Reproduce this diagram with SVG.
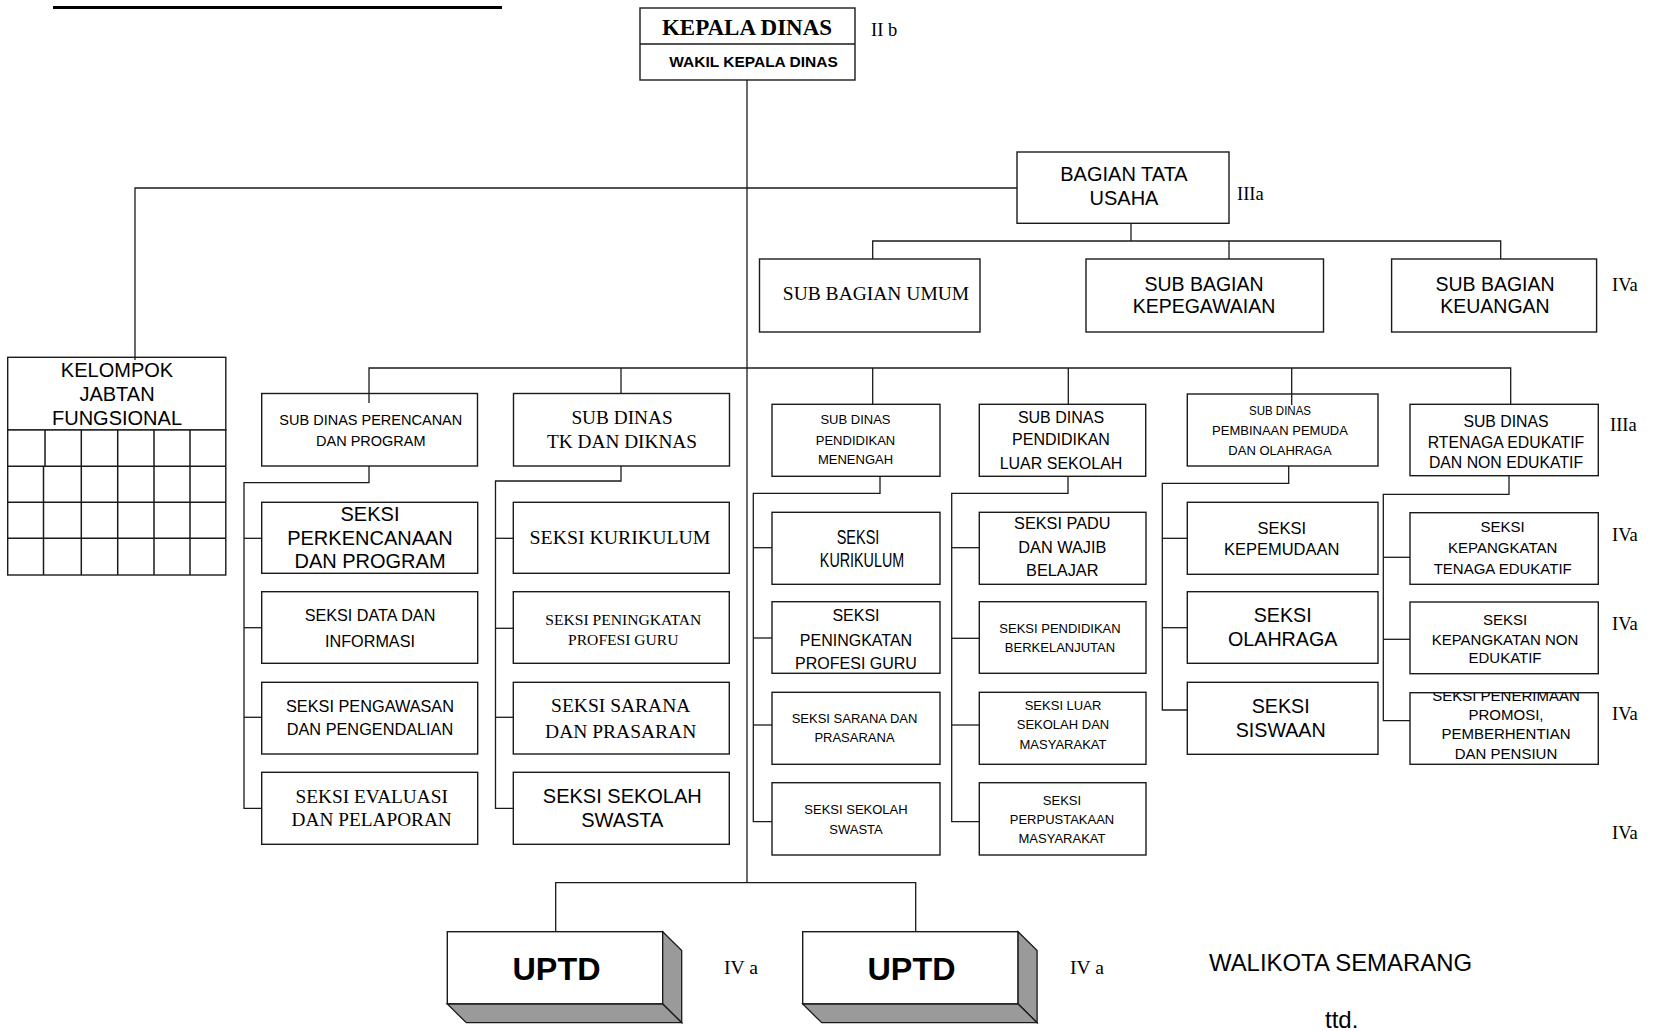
<svg xmlns="http://www.w3.org/2000/svg" width="1669" height="1031" viewBox="0 0 1669 1031">
<style>
.b{fill:#fff;stroke:#1a1a1a;stroke-width:1.4}
.c{fill:none;stroke:#1a1a1a;stroke-width:1.3}
.g{fill:#9a9a9a;stroke:#1a1a1a;stroke-width:1.3}
.s{font-family:"Liberation Sans",Arial,sans-serif;fill:#000;text-anchor:middle}
.r{font-family:"Liberation Serif","Times New Roman",serif;fill:#000;text-anchor:middle}
.l{font-family:"Liberation Serif","Times New Roman",serif;fill:#000;font-size:18.5px}
</style>
<defs>
<clipPath id="clipPen"><rect x="1410" y="692.7" width="188.3" height="71.6"/></clipPath>
</defs>
<rect width="1669" height="1031" fill="#fff"/>
<line x1="53" y1="7.5" x2="502" y2="7.5" stroke="#000" stroke-width="3"/>

<g id="kepala">
<rect class="b" x="640" y="8" width="215" height="72"/>
<line class="c" x1="640" y1="44" x2="855" y2="44"/>
<text class="r" x="747" y="34.5" font-size="23" font-weight="bold">KEPALA DINAS</text>
<text class="s" x="753.5" y="66.5" font-size="15.5" font-weight="bold">WAKIL KEPALA DINAS</text>
<text class="l" x="871" y="36" font-size="17">II b</text>
</g>

<g id="bagian-tu">
<rect class="b" x="1017" y="152" width="212" height="71.3"/>
<text class="s" font-size="20" x="1124" y="180.7">BAGIAN TATA</text>
<text class="s" font-size="20" x="1124" y="205.2">USAHA</text>
<text class="l" x="1237" y="200">IIIa</text>
</g>

<g id="sub-umum">
<rect class="b" x="759.5" y="259" width="220.5" height="73"/>
<text class="r" font-size="19.5" x="876" y="299.5">SUB BAGIAN UMUM</text>
</g>
<g id="sub-kepegawaian">
<rect class="b" x="1086" y="259" width="237.5" height="73"/>
<text class="s" font-size="19.5" x="1204" y="290.5">SUB BAGIAN</text>
<text class="s" font-size="19.5" x="1204" y="313">KEPEGAWAIAN</text>
</g>
<g id="sub-keuangan">
<rect class="b" x="1391.6" y="259" width="205" height="73"/>
<text class="s" font-size="19.5" x="1495" y="290.5">SUB BAGIAN</text>
<text class="s" font-size="19.5" x="1495" y="313">KEUANGAN</text>
<text class="l" x="1612" y="291">IVa</text>
</g>

<g id="kelompok">
<rect class="b" x="7.7" y="357.3" width="218.1" height="72.7"/>
<text class="s" font-size="20" x="117" y="376.5">KELOMPOK</text>
<text class="s" font-size="20" x="117" y="401.2">JABTAN</text>
<text class="s" font-size="20" x="117" y="424.9">FUNGSIONAL</text>
<rect class="b" x="7.7" y="430" width="218.1" height="145" fill="none"/>
<g fill="none" stroke="#1a1a1a" stroke-width="1.5">
<line x1="7.7" y1="466.3" x2="225.8" y2="466.3"/>
<line x1="7.7" y1="502.3" x2="225.8" y2="502.3"/>
<line x1="7.7" y1="538.3" x2="225.8" y2="538.3"/>
<line x1="45" y1="430" x2="45" y2="466.3"/>
<line x1="43.5" y1="466.3" x2="43.5" y2="575"/>
<line x1="81.3" y1="430" x2="81.3" y2="575"/>
<line x1="117.7" y1="430" x2="117.7" y2="575"/>
<line x1="154" y1="430" x2="154" y2="575"/>
<line x1="190" y1="430" x2="190" y2="575"/>
</g>
</g>

<g id="sd-perencanaan">
<rect class="b" x="261.7" y="393.5" width="215.8" height="72.5"/>
<text class="s" font-size="14.5" x="370.8" y="425.2">SUB DINAS PERENCANAN</text>
<text class="s" font-size="14.5" x="370.8" y="446.2">DAN PROGRAM</text>
</g>
<g id="sd-tk">
<rect class="b" x="513.5" y="393.5" width="216" height="72.5"/>
<text class="r" font-size="19.3" x="622" y="424">SUB DINAS</text>
<text class="r" font-size="19.3" x="622" y="448">TK DAN DIKNAS</text>
</g>
<g id="sd-menengah">
<rect class="b" x="772" y="404.3" width="168" height="72"/>
<text class="s" font-size="13" x="855.5" y="424">SUB DINAS</text>
<text class="s" font-size="13" x="855.5" y="444.7">PENDIDIKAN</text>
<text class="s" font-size="13" x="855.5" y="463.7">MENENGAH</text>
</g>
<g id="sd-luar">
<rect class="b" x="979.3" y="404.3" width="166.4" height="72"/>
<text class="s" font-size="16" x="1061" y="422.5">SUB DINAS</text>
<text class="s" font-size="16" x="1061" y="445">PENDIDIKAN</text>
<text class="s" font-size="16" x="1061" y="469">LUAR SEKOLAH</text>
</g>
<g id="sd-pembinaan">
<rect class="b" x="1187.3" y="394" width="190.7" height="72"/>
<text class="s" font-size="13" x="1280" y="414.7" textLength="62" lengthAdjust="spacingAndGlyphs">SUB DINAS</text>
<text class="s" font-size="13" x="1280" y="434.7">PEMBINAAN PEMUDA</text>
<text class="s" font-size="13" x="1280" y="454.7">DAN OLAHRAGA</text>
</g>
<g id="sd-tenaga">
<rect class="b" x="1410" y="404.3" width="188.3" height="71.4"/>
<text class="s" font-size="15.8" x="1506" y="427.4">SUB DINAS</text>
<text class="s" font-size="15.8" x="1506" y="448">RTENAGA EDUKATIF</text>
<text class="s" font-size="15.8" x="1506" y="468">DAN NON EDUKATIF</text>
<text class="l" x="1610" y="431">IIIa</text>
</g>

<g id="seksi-perkencanaan">
<rect class="b" x="261.7" y="502.3" width="216" height="71"/>
<text class="s" font-size="20" x="370" y="520.5">SEKSI</text>
<text class="s" font-size="20" x="370" y="545">PERKENCANAAN</text>
<text class="s" font-size="20" x="370" y="568">DAN PROGRAM</text>
</g>
<g id="seksi-data">
<rect class="b" x="261.7" y="591.7" width="216" height="71.6"/>
<text class="s" font-size="16.2" x="370" y="620.8">SEKSI DATA DAN</text>
<text class="s" font-size="16.2" x="370" y="646.8">INFORMASI</text>
</g>
<g id="seksi-pengawasan">
<rect class="b" x="261.7" y="682.3" width="216" height="71.7"/>
<text class="s" font-size="16.3" x="370" y="711.9">SEKSI PENGAWASAN</text>
<text class="s" font-size="16.3" x="370" y="735.2">DAN PENGENDALIAN</text>
</g>
<g id="seksi-evaluasi">
<rect class="b" x="261.7" y="772.3" width="216" height="72"/>
<text class="r" font-size="19.3" x="371.7" y="803">SEKSI EVALUASI</text>
<text class="r" font-size="19.3" x="371.7" y="826.3">DAN PELAPORAN</text>
</g>

<g id="seksi-kurikulum-tk">
<rect class="b" x="513.3" y="502.3" width="216" height="71"/>
<text class="r" font-size="19.8" x="620" y="544">SEKSI KURIKULUM</text>
</g>
<g id="seksi-profesi-tk">
<rect class="b" x="513.3" y="591.7" width="216" height="71.6"/>
<text class="r" font-size="15.6" x="623.3" y="624.5">SEKSI PENINGKATAN</text>
<text class="r" font-size="15.6" x="623.3" y="644.5">PROFESI GURU</text>
</g>
<g id="seksi-sarana-tk">
<rect class="b" x="513.3" y="682.3" width="216" height="71.7"/>
<text class="r" font-size="19.5" x="620.7" y="712.4">SEKSI SARANA</text>
<text class="r" font-size="19.5" x="620.7" y="738">DAN PRASARAN</text>
</g>
<g id="seksi-swasta-tk">
<rect class="b" x="513.3" y="772.3" width="216" height="72"/>
<text class="s" font-size="20" x="622.3" y="803.2">SEKSI SEKOLAH</text>
<text class="s" font-size="20" x="622.3" y="827.2">SWASTA</text>
</g>

<g id="seksi-kurikulum-men">
<rect class="b" x="772" y="512.3" width="168" height="72"/>
<text class="s" font-size="20" x="858" y="543.9" textLength="42.7" lengthAdjust="spacingAndGlyphs">SEKSI</text>
<text class="s" font-size="20" x="862" y="566.5" textLength="84.3" lengthAdjust="spacingAndGlyphs">KURIKULUM</text>
</g>
<g id="seksi-profesi-men">
<rect class="b" x="772" y="601.7" width="168" height="71.6"/>
<text class="s" font-size="16" x="856" y="620.8">SEKSI</text>
<text class="s" font-size="16" x="856" y="645.8">PENINGKATAN</text>
<text class="s" font-size="16" x="856" y="668.5">PROFESI GURU</text>
</g>
<g id="seksi-sarana-men">
<rect class="b" x="772" y="692.3" width="168" height="72"/>
<text class="s" font-size="13" x="854.5" y="723">SEKSI SARANA DAN</text>
<text class="s" font-size="13" x="854.5" y="742.4">PRASARANA</text>
</g>
<g id="seksi-swasta-men">
<rect class="b" x="772" y="782.7" width="168" height="72.3"/>
<text class="s" font-size="13" x="856" y="813.7">SEKSI SEKOLAH</text>
<text class="s" font-size="13" x="856" y="834">SWASTA</text>
</g>

<g id="seksi-padu">
<rect class="b" x="979.3" y="512.3" width="166.7" height="72"/>
<text class="s" font-size="16.3" x="1062.3" y="529.2">SEKSI PADU</text>
<text class="s" font-size="16.3" x="1062.3" y="552.6">DAN WAJIB</text>
<text class="s" font-size="16.3" x="1062.3" y="575.9">BELAJAR</text>
</g>
<g id="seksi-berkelanjutan">
<rect class="b" x="979.3" y="601.7" width="166.7" height="71.6"/>
<text class="s" font-size="13" x="1060" y="633">SEKSI PENDIDIKAN</text>
<text class="s" font-size="13" x="1060" y="652.4">BERKELANJUTAN</text>
</g>
<g id="seksi-luar-sekolah">
<rect class="b" x="979.3" y="692.3" width="166.7" height="72"/>
<text class="s" font-size="13" x="1063" y="709.7">SEKSI LUAR</text>
<text class="s" font-size="13" x="1063" y="728.7">SEKOLAH DAN</text>
<text class="s" font-size="13" x="1063" y="748.7">MASYARAKAT</text>
</g>
<g id="seksi-perpustakaan">
<rect class="b" x="979.3" y="782.7" width="166.7" height="72.3"/>
<text class="s" font-size="13" x="1062" y="804.7">SEKSI</text>
<text class="s" font-size="13" x="1062" y="823.7">PERPUSTAKAAN</text>
<text class="s" font-size="13" x="1062" y="843">MASYARAKAT</text>
</g>

<g id="seksi-kepemudaan">
<rect class="b" x="1187.3" y="502.3" width="190.7" height="72"/>
<text class="s" font-size="16.5" x="1281.7" y="533.6">SEKSI</text>
<text class="s" font-size="16.5" x="1281.7" y="554.9">KEPEMUDAAN</text>
</g>
<g id="seksi-olahraga">
<rect class="b" x="1187.3" y="591.7" width="190.7" height="71.6"/>
<text class="s" font-size="19.7" x="1282.7" y="622.1">SEKSI</text>
<text class="s" font-size="19.7" x="1282.7" y="646.4">OLAHRAGA</text>
</g>
<g id="seksi-siswaan">
<rect class="b" x="1187.3" y="682.3" width="190.7" height="72"/>
<text class="s" font-size="19.7" x="1280.7" y="713.1">SEKSI</text>
<text class="s" font-size="19.7" x="1280.7" y="737.1">SISWAAN</text>
</g>

<g id="seksi-kep-edukatif">
<rect class="b" x="1410" y="512.7" width="188.3" height="71.6"/>
<text class="s" font-size="15" x="1502.7" y="532.1">SEKSI</text>
<text class="s" font-size="15" x="1502.7" y="552.7">KEPANGKATAN</text>
<text class="s" font-size="15" x="1502.7" y="573.7">TENAGA EDUKATIF</text>
<text class="l" x="1612" y="541">IVa</text>
</g>
<g id="seksi-kep-non">
<rect class="b" x="1410" y="602" width="188.3" height="71.7"/>
<text class="s" font-size="15" x="1505" y="625.4">SEKSI</text>
<text class="s" font-size="15" x="1505" y="644.7">KEPANGKATAN NON</text>
<text class="s" font-size="15" x="1505" y="663.1">EDUKATIF</text>
<text class="l" x="1612" y="629.5">IVa</text>
</g>
<g id="seksi-penerimaan">
<rect class="b" x="1410" y="692.7" width="188.3" height="71.6"/>
<g clip-path="url(#clipPen)">
<text class="s" font-size="15" x="1506" y="701">SEKSI PENERIMAAN</text>
</g>
<text class="s" font-size="15" x="1506" y="720.4">PROMOSI,</text>
<text class="s" font-size="15" x="1506" y="739.4">PEMBERHENTIAN</text>
<text class="s" font-size="15" x="1506" y="758.7">DAN PENSIUN</text>
<text class="l" x="1612" y="720">IVa</text>
</g>
<text class="l" x="1612" y="838.5">IVa</text>

<g id="uptd-1">
<rect class="b" x="447.3" y="931.7" width="215.4" height="72.3"/>
<polygon class="g" points="662.7,931.7 681.7,950.5 681.7,1022.7 662.7,1004"/>
<polygon class="g" points="447.3,1004 662.7,1004 681.7,1022.7 466.3,1022.7"/>
<text class="s" font-size="32" font-weight="bold" x="556.5" y="980" textLength="88" lengthAdjust="spacingAndGlyphs">UPTD</text>
<text class="l" x="724" y="974" font-size="17" textLength="34" lengthAdjust="spacingAndGlyphs">IV a</text>
</g>
<g id="uptd-2">
<rect class="b" x="802.7" y="931.7" width="215.4" height="72.3"/>
<polygon class="g" points="1018.1,931.7 1037.1,950.5 1037.1,1022.7 1018.1,1004"/>
<polygon class="g" points="802.7,1004 1018.1,1004 1037.1,1022.7 821.7,1022.7"/>
<text class="s" font-size="32" font-weight="bold" x="911.5" y="980" textLength="88" lengthAdjust="spacingAndGlyphs">UPTD</text>
<text class="l" x="1070" y="974" font-size="17" textLength="34" lengthAdjust="spacingAndGlyphs">IV a</text>
</g>

<g id="walikota">
<text x="1209" y="970.7" font-family="Liberation Sans, Arial, sans-serif" font-size="24" textLength="263" lengthAdjust="spacingAndGlyphs">WALIKOTA SEMARANG</text>
<text x="1325" y="1028" font-family="Liberation Sans, Arial, sans-serif" font-size="24">ttd.</text>
</g>

<g id="connectors" class="c">
<polyline class="c" points="747,80 747,882.7"/>
<polyline class="c" points="135,360 135,188 1017,188"/>
<polyline class="c" points="1131,223.3 1131,241"/>
<polyline class="c" points="872.7,259 872.7,241 1500.7,241 1500.7,259"/>
<line class="c" x1="1229" y1="241" x2="1229" y2="259"/>
<polyline class="c" points="369,403 369,368 1510.7,368 1510.7,404.3"/>
<line class="c" x1="621" y1="368" x2="621" y2="393.5"/>
<line class="c" x1="872.7" y1="368" x2="872.7" y2="404.3"/>
<line class="c" x1="1068.3" y1="368" x2="1068.3" y2="404.3"/>
<line class="c" x1="1291.7" y1="368" x2="1291.7" y2="405"/>
<polyline class="c" points="369,466 369,482.7 244,482.7 244,808.3 261.7,808.3"/>
<line class="c" x1="244" y1="538.3" x2="261.7" y2="538.3"/>
<line class="c" x1="244" y1="627.7" x2="261.7" y2="627.7"/>
<line class="c" x1="244" y1="717.3" x2="261.7" y2="717.3"/>
<polyline class="c" points="621,466 621,481 495.5,481 495.5,808.3 513.3,808.3"/>
<line class="c" x1="495.5" y1="538.3" x2="513.3" y2="538.3"/>
<line class="c" x1="495.5" y1="628.3" x2="513.3" y2="628.3"/>
<line class="c" x1="495.5" y1="717.3" x2="513.3" y2="717.3"/>
<polyline class="c" points="880,476.3 880,493.3 753.3,493.3 753.3,821.7 772,821.7"/>
<line class="c" x1="753.3" y1="547.7" x2="772" y2="547.7"/>
<line class="c" x1="753.3" y1="638" x2="772" y2="638"/>
<line class="c" x1="753.3" y1="725" x2="772" y2="725"/>
<polyline class="c" points="1068,476.3 1068,493.3 951.7,493.3 951.7,821.7 979.3,821.7"/>
<line class="c" x1="951.7" y1="547.7" x2="979.3" y2="547.7"/>
<line class="c" x1="951.7" y1="638.3" x2="979.3" y2="638.3"/>
<line class="c" x1="951.7" y1="725" x2="979.3" y2="725"/>
<polyline class="c" points="1288.7,466 1288.7,483.3 1162.3,483.3 1162.3,710 1187.3,710"/>
<line class="c" x1="1162.3" y1="538.3" x2="1187.3" y2="538.3"/>
<line class="c" x1="1162.3" y1="627.7" x2="1187.3" y2="627.7"/>
<polyline class="c" points="1509,475.7 1509,494.3 1383.3,494.3 1383.3,720.7 1410,720.7"/>
<line class="c" x1="1383.3" y1="557.3" x2="1410" y2="557.3"/>
<line class="c" x1="1383.3" y1="639.3" x2="1410" y2="639.3"/>
<polyline class="c" points="555.7,931.7 555.7,882.7 915.7,882.7 915.7,931.7"/>
</g>
</svg>
